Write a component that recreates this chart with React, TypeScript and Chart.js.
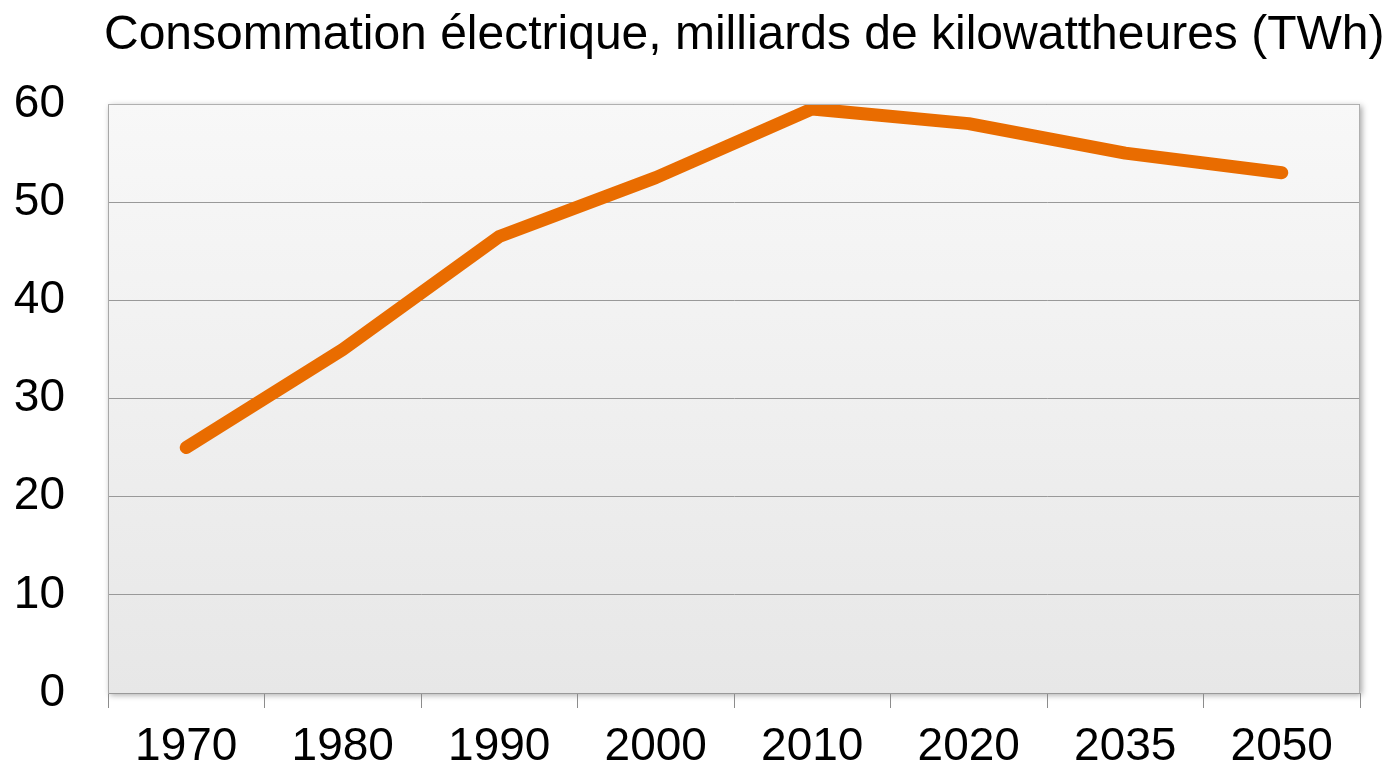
import React, { useEffect, useRef } from "react";
import { Chart, registerables } from "chart.js";

Chart.register(...registerables);

const TITLE = "Consommation électrique, milliards de kilowattheures (TWh)";
const years = ["1970", "1980", "1990", "2000", "2010", "2020", "2035", "2050"];
const consumption = [25, 35, 46.5, 52.5, 59.5, 58, 55, 53];
const Y_MIN = 0;
const Y_MAX = 60;
const Y_STEP = 10;

const FONT = '"Liberation Sans", Arial, sans-serif';
const GRID = "#999999";
const LINE = "#E96C00";

const plotBackground = {
  id: "plotBackground",
  beforeDraw(chart: any) {
    const { ctx, chartArea } = chart;
    if (!chartArea) return;
    const { left, top, right, bottom } = chartArea;
    ctx.save();
    const g = ctx.createLinearGradient(0, top, 0, bottom);
    g.addColorStop(0, "#f8f8f8");
    g.addColorStop(1, "#e7e7e7");
    ctx.shadowColor = "rgba(0,0,0,0.35)";
    ctx.shadowBlur = 6;
    ctx.shadowOffsetX = 2;
    ctx.shadowOffsetY = 2;
    ctx.fillStyle = g;
    ctx.fillRect(left, top, right - left, bottom - top);
    ctx.restore();
  },
  afterDatasetsDraw(chart: any) {
    const { ctx, chartArea } = chart;
    const { left, top, right, bottom } = chartArea;
    ctx.save();
    ctx.strokeStyle = "#b0b0b0";
    ctx.lineWidth = 1;
    ctx.beginPath();
    ctx.moveTo(left, top + 0.5);
    ctx.lineTo(right - 0.5, top + 0.5);
    ctx.lineTo(right - 0.5, bottom);
    ctx.stroke();
    ctx.restore();
  },
};

const titlePlugin = {
  id: "customTitle",
  afterDraw(chart: any) {
    const { ctx } = chart;
    ctx.save();
    ctx.font = `48px ${FONT}`;
    ctx.fillStyle = "#000";
    ctx.textAlign = "left";
    ctx.textBaseline = "alphabetic";
    ctx.fillText(TITLE, 104, 49);
    ctx.restore();
  },
};

export default function App() {
  const canvasRef = useRef<HTMLCanvasElement | null>(null);

  useEffect(() => {
    document.body.style.margin = "0";
    document.body.style.overflow = "hidden";
    const canvas = canvasRef.current;
    if (!canvas) return;
    const chart = new Chart(canvas, {
      type: "line",
      data: {
        labels: years,
        datasets: [
          {
            data: consumption,
            borderColor: LINE,
            backgroundColor: LINE,
            borderWidth: 13,
            borderCapStyle: "round",
            borderJoinStyle: "round",
            pointRadius: 0,
            pointHoverRadius: 0,
            tension: 0,
            fill: false,
          },
        ],
      },
      options: {
        responsive: false,
        animation: false,
        events: [],
        layout: { padding: { top: 104, right: 27, left: 0, bottom: 0 } },
        plugins: {
          legend: { display: false },
          title: { display: false },
          tooltip: { enabled: false },
        },
        scales: {
          x: {
            type: "category",
            offset: true,
            grid: {
              display: true,
              offset: true,
              drawOnChartArea: false,
              drawTicks: true,
              tickLength: 15,
              color: "#8c8c8c",
            },
            border: { display: true, color: "#999999", width: 1 },
            ticks: {
              color: "#000",
              font: { family: FONT, size: 46 },
              padding: 12,
              maxRotation: 0,
              autoSkip: false,
            },
            afterFit(scale: any) {
              scale.height = 77;
            },
          },
          y: {
            min: Y_MIN,
            max: Y_MAX,
            grid: { color: GRID, drawTicks: false, lineWidth: 1 },
            border: { display: true, color: "#a8a8a8", width: 1 },
            ticks: {
              stepSize: Y_STEP,
              color: "#000",
              font: { family: FONT, size: 46 },
              padding: 43,
            },
            afterFit(scale: any) {
              scale.width = 108;
            },
          },
        },
      },
      plugins: [plotBackground, titlePlugin],
    });
    return () => chart.destroy();
  }, []);

  return (
    <div style={{ width: 1387, height: 770, background: "#fff" }}>
      <canvas ref={canvasRef} width={1387} height={770} />
    </div>
  );
}
